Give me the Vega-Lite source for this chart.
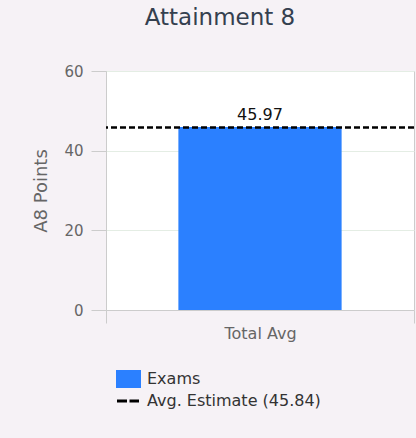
{
  "$schema": "https://vega.github.io/schema/vega-lite/v6.json",
  "width": 308,
  "height": 239,
  "autosize": {"type": "none"},
  "padding": {"left": 106, "top": 71, "right": 2, "bottom": 128},
  "background": "#f6f2f6",
  "title": {"text": "Attainment 8", "fontSize": 23, "font": "DejaVu Sans", "fontWeight": "normal", "color": "#34404f", "anchor": "middle", "frame": "group", "dx": -40, "offset": 34},
  "config": {
    "view": {"fill": "white", "stroke": "#cccccc"},
    "font": "DejaVu Sans"
  },
  "datasets": {
    "bars": [{"category": "Total Avg", "value": 45.97, "series": "Exams"}],
    "est": [{"value": 45.84, "series": "Avg. Estimate (45.84)"}]
  },
  "layer": [
    {
      "data": {"name": "bars"},
      "mark": {"type": "bar", "width": {"band": 0.53}},
      "encoding": {
        "x": {
          "field": "category", "type": "nominal",
          "scale": {"paddingInner": 0, "paddingOuter": 0},
          "axis": {"title": null, "labelAngle": 0, "tickBand": "extent", "tickSize": 13, "tickColor": "#cccccc", "domainColor": "#cccccc", "labelColor": "#666666", "labelFontSize": 16, "labelPadding": 2, "grid": false}
        },
        "y": {
          "field": "value", "type": "quantitative",
          "scale": {"domain": [0, 60], "nice": false},
          "axis": {"values": [0, 20, 40, 60], "title": "A8 Points", "titleFontSize": 18, "titleFontWeight": "normal", "titleColor": "#666666", "labelColor": "#666666", "labelFontSize": 15, "tickSize": 15, "tickColor": "#cccccc", "domainColor": "#cccccc", "gridColor": "#e4ede4", "labelPadding": 8, "titlePadding": 13}
        },
        "color": {
          "field": "series", "type": "nominal",
          "scale": {"domain": ["Exams", "Avg. Estimate (45.84)"], "range": ["#2b80ff", "#000000"]},
          "legend": {
            "orient": "none",
            "legendX": 14.5,
            "legendY": 300,
            "title": null,
            "labelFontSize": 16,
            "labelColor": "#333333",
            "labelFont": "DejaVu Sans",
            "labelLimit": 300,
            "symbolSize": 400,
            "rowPadding": 5,
            "labelOffset": 10.5,
            "encode": {
              "symbols": {
                "update": {
                  "shape": {"signal": "datum.value === 'Exams' ? 'M-1.25,-0.9L1.25,-0.9L1.25,0.9L-1.25,0.9Z' : 'M-1.15,0L1.05,0'"},
                  "strokeDash": {"signal": "datum.value === 'Exams' ? [1, 0] : [10, 2.5]"},
                  "strokeWidth": {"signal": "datum.value === 'Exams' ? 0 : 3"},
                  "fill": {"signal": "datum.value === 'Exams' ? '#2b80ff' : 'transparent'"},
                  "stroke": {"signal": "datum.value === 'Exams' ? '#2b80ff' : '#000000'"},
                  "opacity": {"value": 1}
                }
              }
            }
          }
        }
      }
    },
    {
      "data": {"name": "bars"},
      "mark": {"type": "text", "dy": -12, "fontSize": 16, "color": "#111111", "font": "DejaVu Sans"},
      "encoding": {
        "x": {"field": "category", "type": "nominal"},
        "y": {"field": "value", "type": "quantitative"},
        "text": {"field": "value", "type": "quantitative", "format": ".2f"}
      }
    },
    {
      "data": {"name": "est"},
      "mark": {"type": "rule", "strokeDash": [6, 3], "strokeWidth": 2.5},
      "encoding": {
        "y": {"field": "value", "type": "quantitative"},
        "color": {"field": "series", "type": "nominal"}
      }
    }
  ]
}
